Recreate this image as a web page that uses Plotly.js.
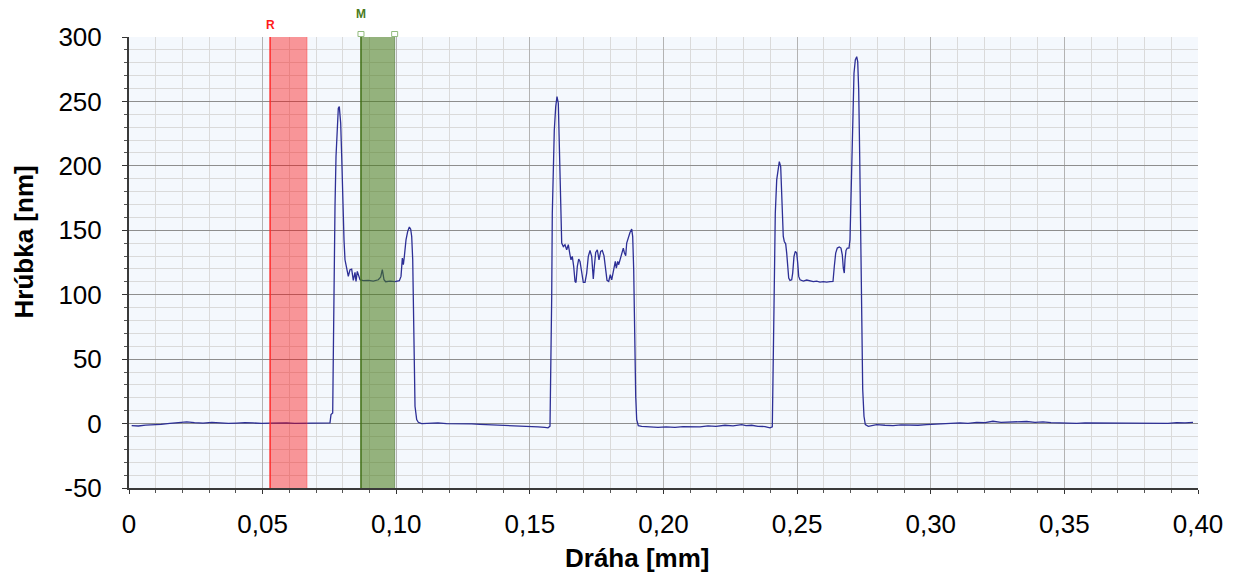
<!DOCTYPE html>
<html>
<head>
<meta charset="utf-8">
<script src="https://cdn.plot.ly/plotly-3.0.1.min.js"></script>
<style>
  html, body { margin: 0; padding: 0; background: #ffffff; }
  #chart { width: 1236px; height: 572px; }
</style>
</head>
<body>
<div id="chart"></div>
<script>
// Surface profile: path along the scan (mm) and measured height (nm)
const dist = [
  0.0010, 0.0035, 0.0062, 0.0090, 0.0120, 0.0153, 0.0185, 0.0216, 0.0245, 0.0277,
  0.0310, 0.0341, 0.0372, 0.0403, 0.0434, 0.0464, 0.0496, 0.0528, 0.0560, 0.0590,
  0.0620, 0.0651, 0.0683, 0.0715, 0.0745,
  // first step
  0.07521, 0.07558, 0.07622, 0.07645, 0.07671, 0.07708, 0.07746, 0.07795, 0.07832, 0.07869,
  0.07921, 0.07959, 0.07996, 0.08045, 0.08082, 0.08120, 0.08169, 0.08206, 0.08269, 0.08332,
  0.08393, 0.08457, 0.08494, 0.08543, 0.08595, 0.08644, 0.08767, 0.08955, 0.09142, 0.09329,
  0.09417, 0.09479, 0.09542, 0.09604, 0.09766, 0.09953, 0.10116, 0.10178, 0.10228, 0.10266,
  0.10303, 0.10365, 0.10428, 0.10490, 0.10540, 0.10578, 0.10616, 0.10640, 0.10664, 0.10702,
  0.10765, 0.10825,
  0.10952, 0.11250, 0.11562, 0.11880, 0.12198, 0.12510, 0.12823, 0.13130, 0.13433, 0.13750,
  0.14069, 0.14380, 0.14694, 0.15000, 0.15304, 0.15560, 0.15678,
  // second step
  0.15753, 0.15779, 0.15817, 0.15839, 0.15877, 0.15914, 0.15967, 0.16015, 0.16064, 0.16090,
  0.16127, 0.16165, 0.16191, 0.16251, 0.16314, 0.16378, 0.16438, 0.16501, 0.16539, 0.16587,
  0.16640, 0.16689, 0.16726, 0.16775, 0.16827, 0.16876, 0.16940, 0.16999, 0.17063, 0.17126,
  0.17186, 0.17250, 0.17313, 0.17373, 0.17411, 0.17463, 0.17523, 0.17587, 0.17650, 0.17710,
  0.17774, 0.17837, 0.17886, 0.17949, 0.18009, 0.18062, 0.18111, 0.18160, 0.18197, 0.18235,
  0.18287, 0.18324, 0.18384, 0.18447, 0.18496, 0.18534, 0.18586, 0.18623, 0.18683, 0.18746,
  0.18810, 0.18847, 0.18885, 0.18907, 0.18933, 0.18960, 0.18997, 0.19057,
  0.19184, 0.19495, 0.19794, 0.20094, 0.20430, 0.20730, 0.21055, 0.21366, 0.21665, 0.21964,
  0.22301, 0.22601, 0.22926, 0.23087, 0.23300, 0.23536, 0.23798, 0.23985,
  // third step
  0.24071, 0.24086, 0.24109, 0.24135, 0.24161, 0.24183, 0.24236, 0.24295, 0.24333, 0.24385,
  0.24423, 0.24460, 0.24482, 0.24520, 0.24572, 0.24610, 0.24647, 0.24685, 0.24733, 0.24797,
  0.24834, 0.24883, 0.24932, 0.24984, 0.25022, 0.25059, 0.25108, 0.25232, 0.25358, 0.25482,
  0.25606, 0.25732, 0.25856, 0.25980, 0.26106, 0.26230, 0.26342, 0.26391, 0.26443, 0.26503,
  0.26578, 0.26641, 0.26690, 0.26728, 0.26765, 0.26791, 0.26829, 0.26877, 0.26941, 0.26978,
  0.27004, 0.27042, 0.27079, 0.27128, 0.27177, 0.27229, 0.27267, 0.27304, 0.27342, 0.27379,
  0.27416, 0.27454, 0.27502, 0.27551, 0.27664,
  0.27977, 0.28288, 0.28588, 0.28887, 0.29224, 0.29523, 0.29848, 0.30159, 0.30458, 0.30758,
  0.31094, 0.31394, 0.31719, 0.32030, 0.32329, 0.32629, 0.32965, 0.33265, 0.33590, 0.33900,
  0.34200, 0.34500, 0.34836, 0.35136, 0.35461, 0.35771, 0.36071, 0.36370, 0.36707, 0.37006,
  0.37331, 0.37642, 0.37942, 0.38241, 0.38578, 0.38877, 0.39203, 0.39514, 0.39813
];

const height = [
  -1.6, -1.9, -1.2, -1.0, -0.6, 0.2, 0.6, 1.3, 0.7, 0.4,
  1.0, 0.6, 0.1, 0.4, 0.8, 0.5, 0.1, 0.3, 0.7, 0.5,
  0.2, 0.4, 0.6, 0.5, 0.5,
  0.5, 7.0, 8.3, 52.2, 129.7, 168.5, 207.2, 233.1, 244.7, 246.0,
  233.1, 207.2, 173.6, 142.6, 127.1, 121.9, 118.1, 114.2, 119.4, 119.9,
  111.1, 117.3, 110.3, 118.1, 114.2, 111.6, 110.9, 111.1, 110.6, 111.6,
  113.7, 119.4, 111.6, 110.1, 110.6, 110.1, 110.9, 114.2, 128.4, 123.3,
  129.7, 142.6, 149.1, 152.5, 150.9, 145.2, 127.1, 98.7, 52.2, 13.4,
  3.1, 1.0,
  0.0, 0.3, 0.5, -0.1, 0.0, 0.2, -0.2, -0.6, -0.8, -1.0,
  -1.3, -1.6, -2.1, -2.2, -2.6, -3.0, -3.3,
  -2.1, 34.1, 98.7, 163.3, 202.1, 227.9, 246.0, 253.7, 248.6, 227.9,
  189.1, 158.1, 140.1, 137.4, 138.8, 134.9, 138.8, 131.0, 127.1, 129.7,
  121.9, 110.3, 109.5, 121.9, 127.7, 125.8, 115.5, 109.5, 109.5, 116.8,
  129.7, 134.3, 129.7, 112.2, 121.9, 132.8, 134.9, 127.1, 133.6, 134.3,
  130.2, 120.7, 111.1, 110.3, 115.5, 111.6, 116.8, 121.9, 125.8, 120.7,
  125.8, 123.3, 128.4, 131.8, 136.2, 132.8, 130.2, 140.1, 144.7, 148.3,
  150.9, 145.2, 119.4, 85.8, 47.1, 21.2, 3.1, -1.6,
  -2.1, -2.7, -2.9, -2.6, -2.9, -2.3, -2.3, -2.6, -1.8, -2.1,
  -1.3, -1.8, -0.8, -1.6, -1.3, -2.1, -2.3, -3.3,
  -2.6, 13.4, 52.2, 90.9, 129.7, 163.3, 189.1, 200.8, 203.3, 199.5,
  181.4, 163.3, 145.2, 141.3, 139.5, 132.3, 121.9, 112.9, 111.1, 111.6,
  116.8, 129.7, 133.6, 132.3, 124.6, 114.2, 111.6, 110.6, 111.4, 110.9,
  110.1, 110.6, 109.8, 110.1, 109.8, 110.1, 110.3, 121.9, 132.3, 136.2,
  137.0, 136.2, 131.0, 120.7, 116.8, 127.1, 134.3, 136.2, 136.2, 142.6,
  168.5, 207.2, 246.0, 271.9, 282.2, 284.7, 280.9, 258.9, 207.2, 142.6,
  65.1, 26.4, 5.7, -0.8, -2.1,
  -0.8, -1.3, -1.6, -1.0, -1.2, -1.3, -0.8, -0.5, 0.0, -0.2,
  0.5, 0.2, 1.0, 0.8, 1.8, 1.0, 1.3, 1.0, 1.6, 1.0,
  1.3, 0.8, 0.5, 0.8, 0.2, 0.5, 0.5, 0.2, 0.2, 0.5,
  0.5, 0.2, 0.2, 0.5, 0.5, 0.2, 0.8, 0.5, 1.0
];

// Axis ticks and labels
const xTickVals = [0, 0.05, 0.10, 0.15, 0.20, 0.25, 0.30, 0.35, 0.40];
const xTickText = ['0', '0,05', '0,10', '0,15', '0,20', '0,25', '0,30', '0,35', '0,40'];
const yTickVals = [300, 250, 200, 150, 100, 50, 0, -50];
const yTickText = ['300', '250', '200', '150', '100', '50', '0', '-50'];

// Cursor bands: reference (R) and measurement (M), in mm
const refBand = [0.0528, 0.0666];
const measBand = [0.0868, 0.0994];

const xTitle = 'Dráha [mm]';
const yTitle = 'Hrúbka [nm]';

const FONT = 'Liberation Sans, Arial, Helvetica, sans-serif';

const trace = {
  type: 'scatter',
  mode: 'lines',
  x: dist,
  y: height,
  line: { color: '#2d2f96', width: 1.3 },
  hoverinfo: 'x+y'
};

function edge(x, color, width) {
  return {
    type: 'line', xref: 'x', yref: 'paper', x0: x, x1: x, y0: 0, y1: 1,
    line: { color: color, width: width }, layer: 'above'
  };
}

function handle(x) {
  return {
    type: 'rect', xref: 'x', yref: 'paper',
    xsizemode: 'pixel', xanchor: x, x0: -3, x1: 3,
    ysizemode: 'pixel', yanchor: 1, y0: 0.5, y1: 5.5,
    fillcolor: 'rgba(255,255,255,0)',
    line: { color: '#92bb7e', width: 1 }, layer: 'above'
  };
}

// Bands sit over the grid and the profile, translucent so both show through
const shapes = [
  {
    type: 'rect', xref: 'x', yref: 'paper',
    x0: refBand[0], x1: refBand[1], y0: 0, y1: 1,
    fillcolor: 'rgba(255,0,0,0.4)', line: { width: 0 }, layer: 'above'
  },
  edge(refBand[0], '#ff2a2a', 1.5),
  edge(refBand[1], 'rgba(255,60,60,0.45)', 1),
  {
    type: 'rect', xref: 'x', yref: 'paper',
    x0: measBand[0], x1: measBand[1], y0: 0, y1: 1,
    fillcolor: 'rgba(70,120,20,0.55)', line: { width: 0 }, layer: 'above'
  },
  edge(measBand[0], '#3f6e14', 1.5),
  edge(measBand[1], 'rgba(80,120,50,0.6)', 1),
  handle(measBand[0]),
  handle(measBand[1])
];

const annotations = [
  {
    text: 'R', xref: 'x', yref: 'paper', x: refBand[0], y: 1.027,
    xanchor: 'center', yanchor: 'middle', showarrow: false,
    font: { family: FONT, size: 12, color: '#ff1a1a', weight: 'bold' }
  },
  {
    text: 'M', xref: 'x', yref: 'paper', x: measBand[0], y: 1.051,
    xanchor: 'center', yanchor: 'middle', showarrow: false,
    font: { family: FONT, size: 12, color: '#4a7a20', weight: 'bold' }
  },
  {
    text: xTitle, xref: 'paper', yref: 'paper', x: 0.4752, y: -0.155,
    xanchor: 'center', yanchor: 'middle', showarrow: false,
    font: { family: FONT, size: 26, color: '#000000', weight: 'bold' }
  },
  {
    text: yTitle, xref: 'paper', yref: 'paper', x: -0.098, y: 0.545,
    xanchor: 'center', yanchor: 'middle', showarrow: false, textangle: -90,
    font: { family: FONT, size: 26, color: '#000000', weight: 'bold' }
  }
];

const layout = {
  width: 1236,
  height: 572,
  margin: { l: 129, r: 38, t: 37, b: 84, pad: 0 },
  paper_bgcolor: '#ffffff',
  plot_bgcolor: '#f4f8fd',
  showlegend: false,
  font: { family: FONT, color: '#000000' },
  xaxis: {
    range: [0, 0.40],
    tickmode: 'array',
    tickvals: xTickVals,
    ticktext: xTickText,
    tickfont: { family: FONT, size: 26, color: '#000000' },
    ticks: 'outside', ticklen: 4, tickcolor: '#333333', tickwidth: 1,
    ticklabelstandoff: 8,
    showline: true, linecolor: '#3a3a3a', linewidth: 2,
    showgrid: true, gridcolor: '#b3b3b3', gridwidth: 1,
    zeroline: false,
    minor: {
      tickmode: 'linear', tick0: 0, dtick: 0.01,
      ticks: 'outside', ticklen: 3, tickcolor: '#555555',
      showgrid: true, gridcolor: '#dadada', gridwidth: 1
    },
    fixedrange: true
  },
  yaxis: {
    range: [-50, 300],
    tickmode: 'array',
    tickvals: yTickVals,
    ticktext: yTickText,
    tickfont: { family: FONT, size: 26, color: '#000000' },
    ticks: 'outside', ticklen: 5, tickcolor: '#333333', tickwidth: 1,
    ticklabelstandoff: 15,
    showline: true, linecolor: '#3a3a3a', linewidth: 2,
    showgrid: true, gridcolor: '#8e8e8e', gridwidth: 1,
    zeroline: false,
    minor: {
      tickmode: 'linear', tick0: 0, dtick: 10,
      ticks: 'outside', ticklen: 3, tickcolor: '#555555',
      showgrid: true, gridcolor: '#dadada', gridwidth: 1
    },
    fixedrange: true
  },
  shapes: shapes,
  annotations: annotations
};

Plotly.newPlot('chart', [trace], layout, { displayModeBar: false, staticPlot: true });
</script>
</body>
</html>
